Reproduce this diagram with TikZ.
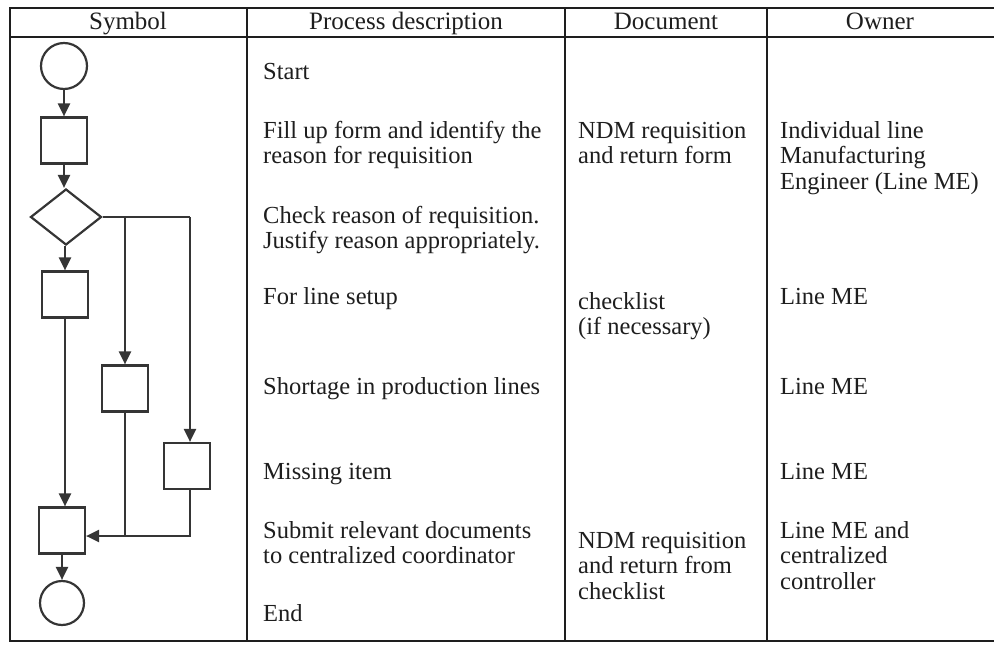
\documentclass[tikz,border=0pt]{standalone}
\usepackage{fontspec}
\setmainfont{Liberation Serif}
\usetikzlibrary{arrows.meta,shapes.geometric}

\definecolor{ink}{HTML}{1E1E1E}
\definecolor{flow}{HTML}{353535}

% multi-line cell whose baseline is that of its first line
\newcommand{\celltext}[1]{\begin{tabular}[t]{@{}l@{}}#1\end{tabular}}

\begin{document}
\begin{tikzpicture}[x=1pt,y=-1pt,
  rule/.style={draw=ink,line width=1.5pt},
  head/.style={font=\fontsize{25}{25.5}\selectfont,text=ink,inner sep=0pt,anchor=base},
  txt/.style={font=\fontsize{24.5}{25.5}\selectfont,text=ink,inner sep=0pt,anchor=base west},
  term/.style={draw=flow,line width=2.2pt,circle,minimum size=#1,inner sep=0pt},
  proc/.style={draw=flow,line width=2.2pt,rectangle,minimum width=46pt,minimum height=46pt,inner sep=0pt},
  decide/.style={draw=flow,line width=2.2pt,diamond,minimum width=71pt,minimum height=56pt,inner sep=0pt},
  link/.style={draw=flow,line width=2.2pt},
  flowarrow/.style={link,-{Triangle[length=13pt,width=12pt]}}]

\useasboundingbox (0,0) rectangle (994,645);

% ---- table frame ----
\draw[rule] (994,8) -- (10,8) -- (10,641) -- (994,641);
\draw[rule] (10,37) -- (994,37);
\draw[rule] (247,8) -- (247,641);
\draw[rule] (565,8) -- (565,641);
\draw[rule] (767,8) -- (767,641);

% ---- column headings ----
\node[head] (hsym)  at (128,30) {Symbol};
\node[head] (hproc) at (406,30) {Process description};
\node[head] (hdoc)  at (666,30) {Document};
\node[head] (hown)  at (880,30) {Owner};

% ---- process description ----
\node[txt] (p1) at (263,79)  {Start};
\node[txt] (p2) at (263,138) {\celltext{Fill up form and identify the\\reason for requisition}};
\node[txt] (p3) at (263,223) {\celltext{Check reason of requisition.\\Justify reason appropriately.}};
\node[txt] (p4) at (263,304) {For line setup};
\node[txt] (p5) at (263,394) {Shortage in production lines};
\node[txt] (p6) at (263,479) {Missing item};
\node[txt] (p7) at (263,538) {\celltext{Submit relevant documents\\to centralized coordinator}};
\node[txt] (p8) at (263,621) {End};

% ---- documents ----
\node[txt] (d2) at (578,138) {\celltext{NDM requisition\\and return form}};
\node[txt] (d4) at (578,309) {\celltext{checklist\\(if necessary)}};
\node[txt] (d7) at (578,548) {\celltext{NDM requisition\\and return from\\checklist}};

% ---- owners ----
\node[txt] (o2) at (780,138) {\celltext{Individual line\\Manufacturing\\Engineer (Line ME)}};
\node[txt] (o4) at (780,304) {Line ME};
\node[txt] (o5) at (780,394) {Line ME};
\node[txt] (o6) at (780,479) {Line ME};
\node[txt] (o7) at (780,538) {\celltext{Line ME and\\centralized\\controller}};

% ---- flow symbols ----
\node[term=46pt] (start) at (64,66) {};
\node[proc] (fill)   at (64,140.5) {};
\node[decide] (check) at (66,217) {};
\node[proc] (setup)  at (65,294.5) {};
\node[proc] (short)  at (125,388.5) {};
\node[proc] (miss)   at (187,466) {};
\node[proc] (submit) at (62,530.5) {};
\node[term=44pt] (stop) at (62,603) {};

\coordinate (fork1) at (125,217);
\coordinate (fork2) at (190,217);
\coordinate (join)  at (125,536);

% ---- connectors ----
\draw[flowarrow] (start) -- (start |- fill.north);
\draw[flowarrow] (fill) -- (fill |- check.north);
\draw[flowarrow] (check.south -| setup) -- (setup.north);
\draw[link] (check.east) -- (fork2);
\draw[flowarrow] (fork1) -- (short.north);
\draw[flowarrow] (fork2) -- (fork2 |- miss.north);
\draw[flowarrow] (setup.south) -- (setup.south |- submit.north);
\draw[link] (short.south) -- (join);
\draw[link] (miss.south -| fork2) |- (join);
\draw[flowarrow] (join) -- (join -| submit.east);
\draw[flowarrow] (submit.south) -- (submit.south |- stop.north);
\end{tikzpicture}
\end{document}
